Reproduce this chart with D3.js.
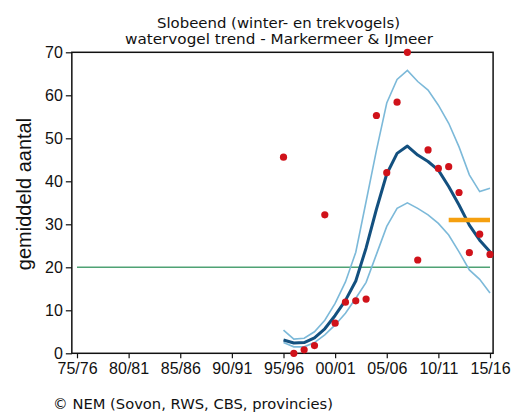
<!DOCTYPE html>
<html><head><meta charset="utf-8">
<script src="https://cdn.jsdelivr.net/npm/d3@7"></script>
<style>
html,body{margin:0;padding:0;background:#fff;}
svg{display:block;}
</style></head>
<body>
<script>
// ---- data ----
const tickLabels = ["75/76","80/81","85/86","90/91","95/96","00/01","05/06","10/11","15/16"];
const tickIndex = [0,5,10,15,20,25,30,35,40];           // season index, 75/76 = 0
const seasonIndex = [20,21,22,23,24,25,26,27,28,29,30,31,32,33,34,35,36,37,38,39,40];
const counts = [45.6,0,0.8,1.8,32.2,7.0,11.9,12.2,12.6,55.3,42.0,58.4,70.0,21.7,47.3,43.0,43.4,37.4,23.4,27.7,23.0];
const trend  = [3.1,2.4,2.5,3.6,5.7,8.8,12.3,16.8,24.5,33.5,41.7,46.5,48.2,46.1,44.6,42.6,38.8,34.5,29.8,26.3,23.6];
const upper  = [5.4,3.3,3.5,5.0,7.7,11.6,16.6,23.5,35.3,47.2,58.2,63.7,65.8,63.2,61.2,57.7,53.5,48.0,41.5,37.6,38.4];
const lower  = [2.5,1.5,1.5,2.5,4.3,6.6,9.3,12.8,16.5,23.0,29.5,33.7,35.0,33.7,32.2,30.2,27.5,23.6,19.4,17.2,14.0];
const referenceLevel = 20;   // green line
const referenceRange = [0,40];
const targetLevel = 31;      // orange line
const targetRange = [36,40];
const yTicks = [0,10,20,30,40,50,60,70];
const titleLines = ["Slobeend (winter- en trekvogels)","watervogel trend - Markermeer & IJmeer"];
const yTitle = "gemiddeld aantal";
const credit = "\u00A9 NEM (Sovon, RWS, CBS, provincies)";

// ---- drawing ----
const W = 513, H = 414;
const svg = d3.select("body").append("svg").attr("width",W).attr("height",H);
const x = d3.scaleLinear().domain([0,40]).range([77,490]);
const y = d3.scaleLinear().domain([0,70]).range([353.3,52.3]);
const x0 = x(-0.5), x1 = x(40.3);

// frame
svg.append("rect").attr("x",x0).attr("y",y(70)).attr("width",x1-x0).attr("height",y(0)-y(70))
  .attr("fill","none").attr("stroke","#111").attr("stroke-width",1.5);

// axes
const yAxis = d3.axisLeft(y).tickValues(yTicks).tickSize(6).tickSizeOuter(0).tickPadding(3);
const gy = svg.append("g").attr("transform",`translate(${x0},0)`).call(yAxis);
gy.select(".domain").remove();
gy.selectAll("line").attr("stroke","#111").attr("stroke-width",1.2);
gy.selectAll("text").attr("font-family","Liberation Sans, Arial, sans-serif").attr("font-size",16).attr("fill","#111");

const xAxis = d3.axisBottom(x).tickValues(tickIndex).tickFormat((d,i)=>tickLabels[i]).tickSize(5).tickSizeOuter(0).tickPadding(4);
const gx = svg.append("g").attr("transform",`translate(0,${y(0)})`).call(xAxis);
gx.select(".domain").remove();
gx.selectAll("line").attr("stroke","#111").attr("stroke-width",1.2);
gx.selectAll("text").attr("font-family","Liberation Sans, Arial, sans-serif").attr("font-size",16).attr("fill","#111");

// reference line
svg.append("line").attr("x1",x(referenceRange[0])).attr("x2",x(referenceRange[1]))
  .attr("y1",y(referenceLevel)).attr("y2",y(referenceLevel))
  .attr("stroke","#4fa274").attr("stroke-width",1.6);

const line = (vals)=> d3.line().x((d,i)=>x(seasonIndex[i])).y(d=>y(d))(vals);
svg.append("path").attr("d",line(upper)).attr("fill","none").attr("stroke","#7cb9d9").attr("stroke-width",1.6);
svg.append("path").attr("d",line(lower)).attr("fill","none").attr("stroke","#7cb9d9").attr("stroke-width",1.6);
svg.append("path").attr("d",line(trend)).attr("fill","none").attr("stroke","#13507f").attr("stroke-width",3).attr("stroke-linejoin","round");

// target line
svg.append("line").attr("x1",x(targetRange[0])).attr("x2",x(targetRange[1]))
  .attr("y1",y(targetLevel)).attr("y2",y(targetLevel))
  .attr("stroke","#f5a00f").attr("stroke-width",4.5);

// points
svg.append("g").selectAll("circle").data(counts).join("circle")
  .attr("cx",(d,i)=>x(seasonIndex[i])).attr("cy",d=>y(d)).attr("r",3.6).attr("fill","#d0121a");

// titles
svg.append("text").attr("x",157).attr("y",28)
  .attr("textLength",243).attr("lengthAdjust","spacingAndGlyphs")
  .attr("font-family","DejaVu Sans, Verdana, sans-serif").attr("font-size",13.5).attr("fill","#111").text(titleLines[0]);
svg.append("text").attr("x",125).attr("y",44)
  .attr("textLength",308).attr("lengthAdjust","spacingAndGlyphs")
  .attr("font-family","DejaVu Sans, Verdana, sans-serif").attr("font-size",13.5).attr("fill","#111").text(titleLines[1]);

svg.append("text").attr("transform","translate(31,194) rotate(-90)").attr("text-anchor","middle")
  .attr("font-family","Liberation Sans, Arial, sans-serif").attr("font-size",20).attr("fill","#111").text(yTitle);

svg.append("text").attr("x",53).attr("y",409)
  .attr("textLength",280).attr("lengthAdjust","spacingAndGlyphs")
  .attr("font-family","DejaVu Sans, Verdana, sans-serif").attr("font-size",14).attr("fill","#111").text(credit);
</script>
</body></html>
